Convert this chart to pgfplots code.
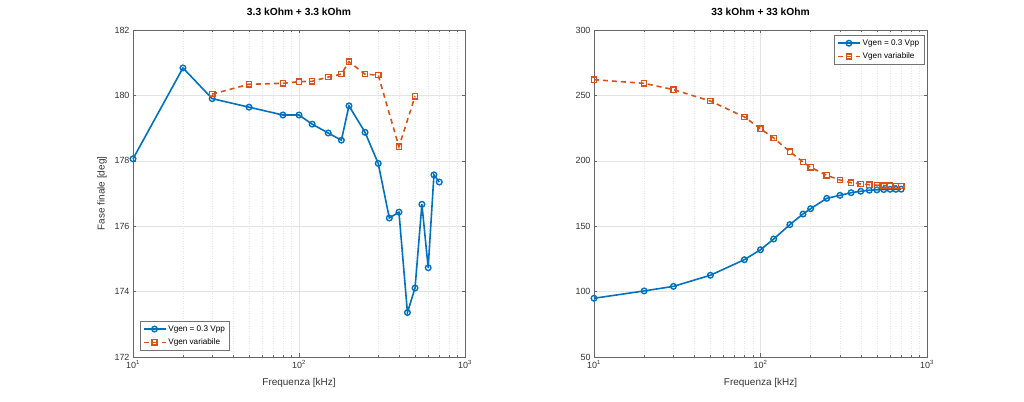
\documentclass[border=0pt]{standalone}
\usepackage{pgfplots}
\pgfplotsset{compat=1.18}
\usepackage{fontspec}
\setmainfont{Liberation Sans}
\definecolor{mblue}{rgb}{0,0.447,0.741}
\definecolor{morange}{rgb}{0.85,0.325,0.098}
\tikzset{
  sblue/.style={color=mblue, line width=1.6bp, mark=o, mark size=2.8bp, mark options={solid, line width=1.4bp}},
  sorange/.style={color=morange, line width=1.6bp, dash pattern=on 5bp off 4bp, mark=square, mark size=2.6bp, mark options={solid, line width=1.4bp}},
}
\pgfplotsset{
  every axis/.append style={
    scale only axis, height=327bp, anchor=south west,
    xtick={10,100,1000},
    xticklabels={10\textsuperscript{1},10\textsuperscript{2},10\textsuperscript{3}},
    minor xtick={20,30,40,50,60,70,80,90,200,300,400,500,600,700,800,900},
    xmajorgrids=true, xminorgrids=true, ymajorgrids=true,
    major grid style={draw=black!11, line width=0.5bp},
    minor grid style={draw=black!10, line width=0.5bp, dash pattern=on 1bp off 1.5bp},
    tick align=inside,
    major tick length=3.5bp, minor tick length=2bp,
    tick style={draw=black!60, line width=0.5bp},
    axis line style={draw=black!60, line width=0.6bp},
    tick label style={font=\fontsize{9}{10}\selectfont, text=black!80},
    label style={font=\fontsize{10}{11}\selectfont, text=black!80},
    title style={font=\bfseries\fontsize{10.3}{11}\selectfont, at={(axis description cs:0.5,1.037)}, anchor=center},
    xlabel style={at={(axis description cs:0.5,-0.0795)}, anchor=center},
    clip=false,
    legend cell align=left,
    legend style={font=\fontsize{8.2}{9.5}\selectfont, draw=black!55, line width=0.5bp,
      inner sep=2.5bp, row sep=2bp},
  },
}
\begin{document}
\begin{tikzpicture}
\path[use as bounding box] (0,0) rectangle (1024bp,402bp);
\begin{axis}[xmode=log, xmin=10, xmax=1000, at={(133bp,45bp)}, width=332bp,
  /pgf/number format/assume math mode=true,
  ymin=172, ymax=182, ytick={172,174,176,178,180,182},
  title={3.3 kOhm + 3.3 kOhm},
  xlabel={Frequenza [kHz]},
  ylabel={Fase finale [deg]},
  ylabel style={at={(axis description cs:-0.093,0.5)}, anchor=center},
  legend style={at={(0.021,0.019)}, anchor=south west},
  legend image code/.code={\draw[mark repeat=2,mark phase=2] plot coordinates {(0bp,0bp)(11bp,0bp)(22bp,0bp)};},
]
\addplot[sblue] coordinates {(10,178.06)(20,180.84)(30,179.9)(50,179.64)(80,179.4)(100,179.4)(120,179.12)(150,178.85)(180,178.63)(200,179.68)(250,178.87)(300,177.92)(350,176.25)(400,176.43)(450,173.36)(500,174.11)(550,176.67)(600,174.73)(650,177.57)(700,177.35)};
\addlegendentry{Vgen = 0.3 Vpp}
\addplot[sorange] coordinates {(30,180.04)(50,180.34)(80,180.37)(100,180.42)(120,180.43)(150,180.56)(180,180.65)(200,181.03)(250,180.65)(300,180.62)(400,178.43)(500,179.97)};
\addlegendentry{Vgen variabile}
\end{axis}
\begin{axis}[xmode=log, xmin=10, xmax=1000, at={(594bp,45bp)}, width=333bp,
  /pgf/number format/assume math mode=true,
  ymin=50, ymax=300, ytick={50,100,150,200,250,300},
  title={33 kOhm + 33 kOhm},
  xlabel={Frequenza [kHz]},
  legend style={at={(0.991,0.985)}, anchor=north east},
  legend image code/.code={\draw[mark repeat=2,mark phase=2] plot coordinates {(0bp,0bp)(11bp,0bp)(22bp,0bp)};},
]
\addplot[sblue] coordinates {(10,94.9)(20,100.5)(30,104)(50,112.5)(80,124.4)(100,132)(120,140.2)(150,151.2)(180,159.3)(200,163.4)(250,171.3)(300,173.6)(350,175.6)(400,176.7)(450,177.5)(500,177.8)(550,178.0)(600,178.2)(650,178.2)(700,178.3)};
\addlegendentry{Vgen = 0.3 Vpp}
\addplot[sorange] coordinates {(10,262)(20,259.2)(30,254.4)(50,245.7)(80,233.5)(100,224.5)(120,217.4)(150,207)(180,199.1)(200,195)(250,188.9)(300,185.3)(350,183.3)(400,182.3)(450,181.7)(500,181.4)(550,181.1)(600,181)(650,180.8)(700,180.7)};
\addlegendentry{Vgen variabile}
\end{axis}
\end{tikzpicture}
\end{document}
